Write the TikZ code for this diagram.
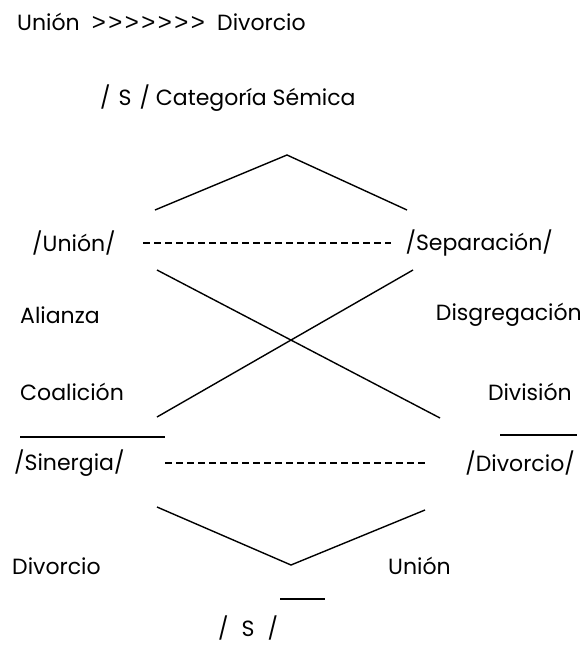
\documentclass[tikz,border=0pt]{standalone}
\usepackage{fontspec}
\setmainfont{Poppins}
\newfontfamily\gtfont{Liberation Sans}
\newcommand{\gtc}{\makebox[16.5pt]{\gtfont\fontsize{24}{24}\selectfont >}}
\begin{document}
\begin{tikzpicture}[x=1pt,y=-1pt,
  txt/.style={anchor=west,inner sep=0pt,font=\fontsize{22}{26}\selectfont},
  ln/.style={line width=1.4pt,black},
  dsh/.style={line width=1.4pt,dash pattern=on 6.5pt off 4.5pt}]
\useasboundingbox (0,0) rectangle (585,646);
% texts
\node[txt] (title) at (17,22) {Unión\hspace{11pt}\gtc\gtc\gtc\gtc\gtc\gtc\gtc\hspace{11pt}Divorcio};
\node[txt] (cat) at (100,98) {/\hspace{8pt}S\hspace{8pt}/ Categoría Sémica};
\node[txt] (union) at (32,243) {/Unión/};
\node[txt,anchor=east] (sep) at (553,243) {/Separación/};
\node[txt] (ali) at (20,315) {Alianza};
\node[txt,anchor=east] (dis) at (582,315) {Disgregación};
\node[txt] (coa) at (20,392) {Coalición};
\node[txt,anchor=east] (div) at (572,392) {División};
\node[txt] (sin) at (14,463) {/Sinergia/};
\node[txt,anchor=east] (dvc) at (575,463) {/Divorcio/};
\node[txt] (dvb) at (12,566) {Divorcio};
\node[txt] (unb) at (388,566) {Unión};
\node[txt] (s) at (218,628) {/\hspace{13pt}S\hspace{13pt}/};
% coordinates
\coordinate (apex) at (287,155);
\coordinate (tl) at (155,210);
\coordinate (tr) at (407,210);
\coordinate (xa1) at (157,270);
\coordinate (xa2) at (440,418);
\coordinate (xb1) at (413,270);
\coordinate (xb2) at (157,417);
\coordinate (h1a) at (20,437);
\coordinate (h1b) at (165,437);
\coordinate (h2a) at (500,435);
\coordinate (h2b) at (577,435);
\coordinate (vl) at (157,507);
\coordinate (vb) at (291,565);
\coordinate (vr) at (425,510);
\coordinate (h3a) at (280,599);
\coordinate (h3b) at (325,599);
\coordinate (d1a) at (143,243);
\coordinate (d1b) at (391,243);
\coordinate (d2a) at (165,463);
\coordinate (d2b) at (429,463);
% lines
\draw[ln] (tl) -- (apex) -- (tr);
\draw[ln] (xa1) -- (xa2);
\draw[ln] (xb1) -- (xb2);
\draw[ln] (h1a) -- (h1b);
\draw[ln] (h2a) -- (h2b);
\draw[ln] (vl) -- (vb) -- (vr);
\draw[ln] (h3a) -- (h3b);
\draw[dsh] (d1a) -- (d1b);
\draw[dsh] (d2a) -- (d2b);
\end{tikzpicture}
\end{document}
